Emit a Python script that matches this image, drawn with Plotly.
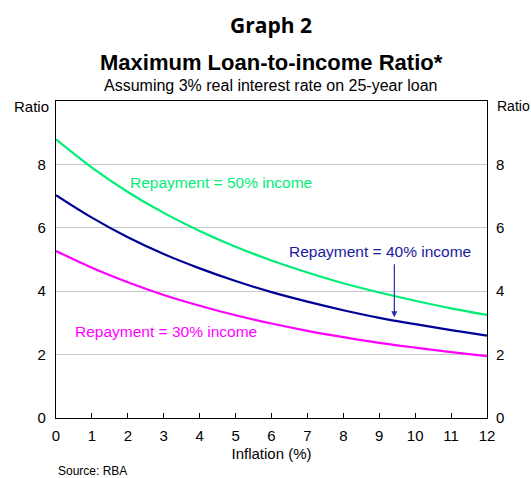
import plotly.graph_objects as go

inflation = [0, 1, 2, 3, 4, 5, 6, 7, 8, 9, 10, 11, 12]
rep50 = [8.79, 7.90, 7.13, 6.47, 5.90, 5.40, 4.97, 4.59, 4.25, 3.96, 3.70, 3.46, 3.25]
rep40 = [7.03, 6.32, 5.70, 5.17, 4.72, 4.32, 3.97, 3.67, 3.40, 3.16, 2.96, 2.77, 2.60]
rep30 = [5.27, 4.74, 4.28, 3.88, 3.54, 3.24, 2.98, 2.75, 2.55, 2.37, 2.22, 2.08, 1.95]
y_ticks = [0, 2, 4, 6, 8]
x_ticks = list(range(0, 13))

GREEN = "#00EE76"
NAVY = "#000096"
MAGENTA = "#FF00FF"
FONT = "Liberation Sans, Arial, sans-serif"

fig = go.Figure()
fig.add_trace(go.Scatter(x=inflation, y=rep50, mode="lines", line=dict(color=GREEN, width=2.2, shape="spline")))
fig.add_trace(go.Scatter(x=inflation, y=rep40, mode="lines", line=dict(color=NAVY, width=2.2, shape="spline")))
fig.add_trace(go.Scatter(x=inflation, y=rep30, mode="lines", line=dict(color=MAGENTA, width=2.2, shape="spline")))
fig.add_trace(go.Scatter(x=[inflation[0]], y=[rep50[0]], mode="markers", marker=dict(opacity=0), yaxis="y2", hoverinfo="skip"))

fig.update_layout(
    width=531, height=478,
    margin=dict(l=56, r=44, t=101, b=60),
    paper_bgcolor="white", plot_bgcolor="white",
    showlegend=False,
    font=dict(family=FONT, size=15, color="black"),
    xaxis=dict(range=[0, 12], tickvals=x_ticks, ticks="inside", ticklen=5, tickcolor="black",
               showline=True, linecolor="black", linewidth=1.2, mirror=True, showgrid=False,
               zeroline=False, tickfont=dict(size=15), ticklabelstandoff=4,
               title=dict(text="Inflation (%)", font=dict(size=15), standoff=5)),
    yaxis=dict(range=[0, 10], tickvals=y_ticks, ticks="", showline=True, linecolor="black", linewidth=1.2,
               mirror=True, showgrid=True, gridcolor="#C8C8C8", gridwidth=1, zeroline=False,
               tickfont=dict(size=15), ticklabelstandoff=6),
    yaxis2=dict(range=[0, 10], tickvals=y_ticks, overlaying="y", side="right", showgrid=False,
                zeroline=False, showline=False, tickfont=dict(size=15), ticklabelstandoff=8),
)

ann = [
    dict(text="<b>Graph 2</b>", y=25, font=dict(family="Open Sans, sans-serif", size=21)),
    dict(text="<b>Maximum Loan-to-income Ratio*</b>", y=62, font=dict(size=22)),
    dict(text="Assuming 3% real interest rate on 25-year loan", y=85, font=dict(size=16)),
]
for a in ann:
    fig.add_annotation(text=a["text"], xref="paper", yref="paper", x=(271 - 56) / 431,
                       y=1 + (101 - a["y"]) / 317, showarrow=False, font=a["font"],
                       xanchor="center", yanchor="middle")

fig.add_annotation(text="Ratio", xref="paper", yref="paper", x=-5 / 431, y=1 - 5 / 317,
                   xanchor="right", yanchor="middle", showarrow=False, font=dict(size=15))
fig.add_annotation(text="Ratio", xref="paper", yref="paper", x=1 + 8 / 431, y=1 - 5 / 317,
                   xanchor="left", yanchor="middle", showarrow=False, font=dict(size=14))
fig.add_annotation(text="Source: RBA", xref="paper", yref="paper", x=0, y=-(471 - 418) / 317,
                   xanchor="left", yanchor="middle", showarrow=False, font=dict(size=12))

fig.add_annotation(text="Repayment = 50% income", x=2.0, y=7.43, xanchor="left", yanchor="middle",
                   showarrow=False, font=dict(size=15.5, color=GREEN))
fig.add_annotation(text="Repayment = 40% income", x=6.42, y=5.26, xanchor="left", yanchor="middle",
                   showarrow=False, font=dict(size=15.5, color="#1A1AA0"))
fig.add_annotation(text="Repayment = 30% income", x=0.48, y=2.73, xanchor="left", yanchor="middle",
                   showarrow=False, font=dict(size=15.5, color=MAGENTA))
fig.add_annotation(text="", x=9.42, y=3.18, ax=9.42, ay=4.9, xref="x", yref="y", axref="x", ayref="y",
                   showarrow=True, arrowhead=2, arrowsize=1, arrowwidth=1.2, arrowcolor="#2A2AB0")

fig.write_html("out.html", config={"displayModeBar": False},
               post_script="document.body.style.margin='0';")
